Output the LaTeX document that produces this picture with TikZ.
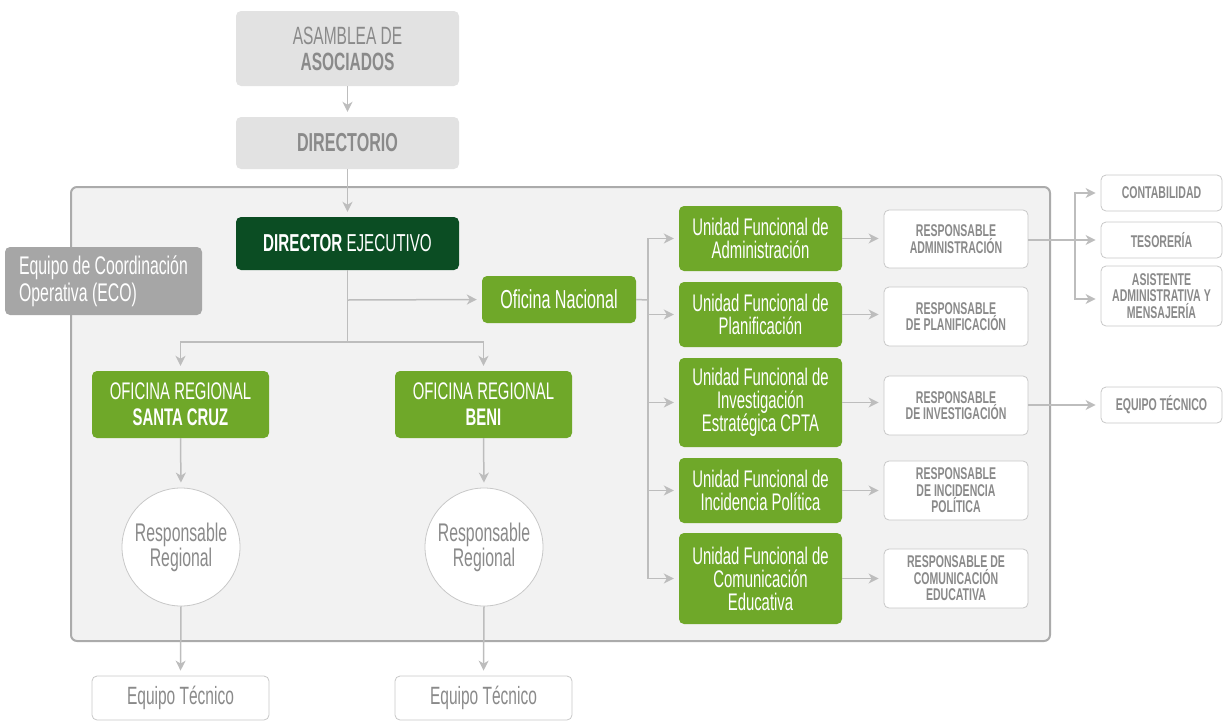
\documentclass[tikz,border=0pt]{standalone}
\usepackage{fontspec}
\setmainfont{Liberation Sans}[FakeStretch=0.62]
\usetikzlibrary{arrows.meta}
\definecolor{topgray}{HTML}{E2E2E2}
\definecolor{txtgray}{HTML}{8A8A8A}
\definecolor{lgreen}{HTML}{6FA829}
\definecolor{dgreen}{HTML}{0B4D23}
\definecolor{ecogray}{HTML}{A6A6A6}
\definecolor{contfill}{HTML}{F2F2F2}
\definecolor{contline}{HTML}{ABABAB}
\definecolor{linegray}{HTML}{BDBDBD}
\definecolor{wline}{HTML}{C8C8C8}
\tikzset{
  box/.style={rectangle, rounded corners=5pt, inner sep=0pt, align=center},
  topbox/.style={box, fill=topgray, text=txtgray, minimum width=223pt, font=\fontsize{25}{26}\selectfont},
  gbox/.style={box, fill=lgreen, text=white, font=\fontsize{24}{23}\selectfont},
  wbox/.style={box, fill=white, draw=wline, line width=0.8pt, text=txtgray},
  respbox/.style={wbox, minimum width=144pt, minimum height=59pt, font=\bfseries\fontsize{17}{16.5}\selectfont},
  sidebox/.style={wbox, minimum width=121pt, minimum height=36pt, font=\bfseries\fontsize{17}{16.5}\selectfont},
  circnode/.style={circle, fill=white, draw=wline, line width=0.8pt, minimum size=118pt, inner sep=0pt, align=center, text=txtgray, font=\fontsize{25.5}{25}\selectfont},
  conn/.style={draw=linegray, line width=1.5pt},
  arr/.style={conn, -{Stealth[length=10pt,width=10pt,inset=3pt]}, shorten >=5pt},
}
\begin{document}
\begin{tikzpicture}[x=1pt,y=-1pt]
\useasboundingbox (0,0) rectangle (1225,723);
% container
\node[rectangle, rounded corners=6pt, fill=contfill, draw=contline, line width=2pt, minimum width=979pt, minimum height=454pt, inner sep=0pt] (cont) at (560.5,414) {};
% top
\node[topbox, minimum height=75pt] (asam) at (347.5,48.5) {ASAMBLEA DE\\\textbf{ASOCIADOS}};
\node[topbox, minimum height=52pt, font=\fontsize{26}{26}\selectfont] (dirc) at (347.5,143) {\textbf{DIRECTORIO}};
\node[box, fill=dgreen, text=white, minimum width=223pt, minimum height=53pt, font=\fontsize{24.5}{25}\selectfont] (dir) at (347.5,243.5) {\textbf{DIRECTOR} EJECUTIVO};
\node[box, fill=ecogray, text=white, minimum width=197pt, minimum height=68pt, align=left, font=\fontsize{25.5}{27}\selectfont] (eco) at (103.5,281) {Equipo de Coordinación\\Operativa (ECO)};
\node[gbox, minimum width=154pt, minimum height=47pt, font=\fontsize{26}{26}\selectfont] (on) at (559,299.5) {Oficina Nacional};
% regional
\node[gbox, minimum width=177pt, minimum height=67pt, font=\fontsize{24}{26}\selectfont] (orsc) at (180.5,404.5) {OFICINA REGIONAL\\\textbf{SANTA CRUZ}};
\node[gbox, minimum width=177pt, minimum height=67pt, font=\fontsize{24}{26}\selectfont] (orbe) at (483.5,404.5) {OFICINA REGIONAL\\\textbf{BENI}};
\node[circnode] (rr1) at (181,547) {Responsable\\Regional};
\node[circnode] (rr2) at (484,547) {Responsable\\Regional};
\node[wbox, minimum width=177pt, minimum height=44pt, font=\fontsize{25}{25}\selectfont] (et1) at (180.5,698) {Equipo Técnico};
\node[wbox, minimum width=177pt, minimum height=44pt, font=\fontsize{25}{25}\selectfont] (et2) at (483.5,698) {Equipo Técnico};
% units
\node[gbox, minimum width=163pt, minimum height=65pt] (u1) at (760.5,238.5) {Unidad Funcional de\\Administración};
\node[gbox, minimum width=163pt, minimum height=65pt] (u2) at (760.5,314.5) {Unidad Funcional de\\Planificación};
\node[gbox, minimum width=163pt, minimum height=89pt] (u3) at (760.5,402.5) {Unidad Funcional de\\Investigación\\Estratégica CPTA};
\node[gbox, minimum width=163pt, minimum height=65pt] (u4) at (760.5,490.5) {Unidad Funcional de\\Incidencia Política};
\node[gbox, minimum width=163pt, minimum height=91pt] (u5) at (760.5,578.5) {Unidad Funcional de\\Comunicación\\Educativa};
% responsables
\node[respbox, minimum height=58pt] (r1) at (956,239) {RESPONSABLE\\ADMINISTRACIÓN};
\node[respbox] (r2) at (956,316.5) {RESPONSABLE\\DE PLANIFICACIÓN};
\node[respbox] (r3) at (956,405.5) {RESPONSABLE\\DE INVESTIGACIÓN};
\node[respbox] (r4) at (956,490.5) {RESPONSABLE\\DE INCIDENCIA\\POLÍTICA};
\node[respbox] (r5) at (956,578.5) {RESPONSABLE DE\\COMUNICACIÓN\\EDUCATIVA};
% side
\node[sidebox] (c1) at (1161.5,193) {CONTABILIDAD};
\node[sidebox] (c2) at (1161.5,240) {TESORERÍA};
\node[sidebox, minimum height=60pt] (c3) at (1161.5,296) {ASISTENTE\\ADMINISTRATIVA Y\\MENSAJERÍA};
\node[sidebox] (et3) at (1161.5,405) {EQUIPO TÉCNICO};
% connectors
\coordinate (j1) at (347.5,300);
\coordinate (j2) at (347.5,342);
\coordinate (bus) at (648,300);
\coordinate (b2) at (1075,240);
\draw[arr] (asam.south) -- (dirc.north);
\draw[arr] (dirc.south) -- (dir.north);
\draw[conn] (dir.south) -- (j2);
\draw[arr] (j1) -- (on.west);
\draw[arr] (j2) -| (orsc.north);
\draw[arr] (j2) -| (orbe.north);
\draw[arr] (orsc.south) -- (rr1.north);
\draw[arr] (orbe.south) -- (rr2.north);
\draw[arr] (rr1.south) -- (et1.north);
\draw[arr] (rr2.south) -- (et2.north);
\draw[conn] (on.east) -- (bus);
\foreach \u in {u1,u2,u3,u4,u5} {\draw[arr] (bus) |- (\u.west);}
\foreach \u/\r in {u1/r1,u2/r2,u3/r3,u4/r4,u5/r5} {\draw[arr] (\u.east) -- (\u.east -| \r.west);}
\draw[arr] (r1.east |- b2) -- (c2.west);
\draw[arr] (b2) |- (c1.west);
\draw[arr] (b2) |- ([yshift=-3pt]c3.west);
\draw[arr] (r3.east |- et3) -- (et3.west);
\end{tikzpicture}
\end{document}
